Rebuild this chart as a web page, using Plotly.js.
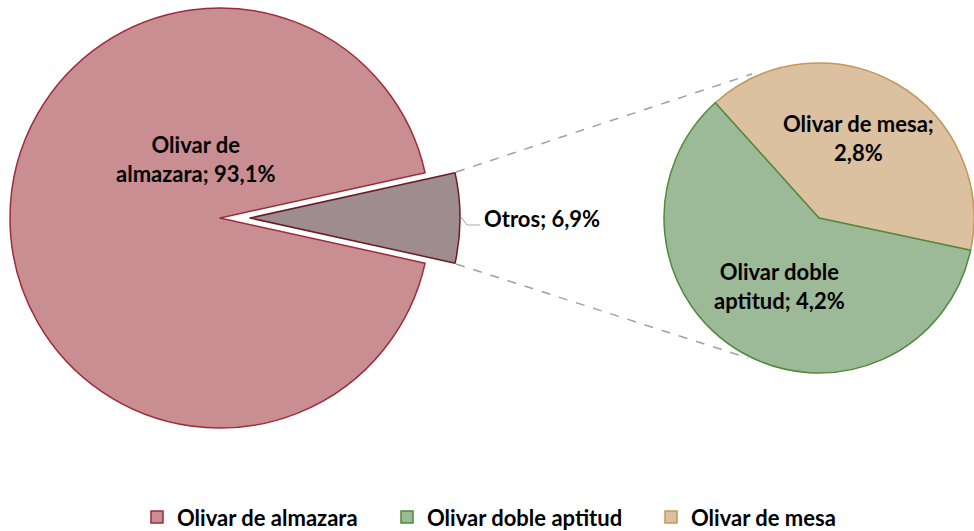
<!DOCTYPE html>
<html>
<head>
<meta charset="utf-8">
<script src="https://cdn.plot.ly/plotly-3.0.1.min.js"></script>
<style>
html,body{margin:0;padding:0;overflow:hidden;background:#fff;}
#chart{width:974px;height:531px;}
</style>
</head>
<body>
<div id="chart"></div>
<script>
// ---- data ----
var mainCategories = ['Olivar de almazara', 'Otros'];
var mainValues = [93.1, 6.9];
var subCategories = ['Olivar de mesa', 'Olivar doble aptitud'];
var subValues = [2.8, 4.2];
var legendCategories = ['Olivar de almazara', 'Olivar doble aptitud', 'Olivar de mesa'];

// ---- styling ----
var W = 974, H = 531;
var FONT = 'Lato, "Open Sans", sans-serif';
var colors = {
  'Olivar de almazara': {fill: '#c98e92', line: '#9e2a3a'},
  'Otros': {fill: '#9e8c8e', line: '#6a1c28'},
  'Olivar de mesa': {fill: '#dcc1a1', line: '#c59658'},
  'Olivar doble aptitud': {fill: '#9cb998', line: '#4f8a3c'}
};
function px(x) { return x / W; }
function py(y) { return 1 - y / H; }
function fmt(v) { return v.toFixed(1).replace('.', ',') + '%'; }

var total = mainValues[0] + mainValues[1];
var otrosDeg = mainValues[1] / total * 360;
var TRANSP = 'rgba(0,0,0,0)';

// main pie (almazara), Otros slice transparent
var traceMain = {
  type: 'pie', labels: mainCategories, values: mainValues,
  sort: false, direction: 'clockwise', rotation: 90 + otrosDeg / 2,
  textinfo: 'none', hoverinfo: 'label+percent', showlegend: false,
  marker: {colors: [colors['Olivar de almazara'].fill, TRANSP],
           line: {color: [colors['Olivar de almazara'].line, TRANSP], width: [1.5, 0]}},
  domain: {x: [px(10), px(430)], y: [py(428), py(8)]}
};
// exploded Otros slice
var traceOtros = {
  type: 'pie', labels: mainCategories, values: mainValues,
  sort: false, direction: 'clockwise', rotation: 90 + otrosDeg / 2,
  textinfo: 'none', hoverinfo: 'label+percent', showlegend: false,
  marker: {colors: [TRANSP, colors['Otros'].fill],
           line: {color: [TRANSP, colors['Otros'].line], width: [0, 1.5]}},
  domain: {x: [px(40), px(460)], y: [py(428), py(8)]}
};
// secondary pie
var traceSub = {
  type: 'pie', labels: subCategories, values: subValues,
  sort: false, direction: 'clockwise', rotation: -42,
  textinfo: 'none', hoverinfo: 'label+value', showlegend: false,
  marker: {colors: subCategories.map(function(c){return colors[c].fill;}),
           line: {color: subCategories.map(function(c){return colors[c].line;}), width: 1.5}},
  domain: {x: [px(664), 1], y: [py(374), py(62)]}
};

var labFont = {family: FONT, size: 22, color: '#000'};
function ann(text, x, y, xanchor) {
  return {text: text, x: px(x), y: py(y), xref: 'paper', yref: 'paper',
          xanchor: xanchor || 'center', yanchor: 'middle', showarrow: false,
          font: labFont, align: 'center'};
}
var annotations = [
  ann('<b>Olivar de<br>almazara; ' + fmt(mainValues[0]) + '</b>', 195, 159),
  ann('<b>' + mainCategories[1] + '; ' + fmt(mainValues[1]) + '</b>', 482, 218, 'left'),
  ann('<b>' + subCategories[0] + ';<br>' + fmt(subValues[0]) + '</b>', 858, 138),
  ann('<b>Olivar doble<br>aptitud; ' + fmt(subValues[1]) + '</b>', 779, 286)
];

var shapes = [
  {type: 'line', xref: 'paper', yref: 'paper', x0: px(456), y0: py(172), x1: px(752), y1: py(74),
   line: {color: '#a0a0a0', width: 1.5, dash: 'dash'}},
  {type: 'line', xref: 'paper', yref: 'paper', x0: px(456), y0: py(264), x1: px(748), y1: py(358),
   line: {color: '#a0a0a0', width: 1.5, dash: 'dash'}},
  {type: 'path', xref: 'paper', yref: 'paper',
   path: 'M ' + px(461) + ',' + py(217) + ' L ' + px(467) + ',' + py(225) + ' L ' + px(480) + ',' + py(225),
   line: {color: '#a6a6a6', width: 1}}
];

// legend (manual, Otros excluded)
var legendX = [150, 400, 664];
legendCategories.forEach(function(c, i) {
  var x0 = legendX[i];
  shapes.push({type: 'rect', xref: 'paper', yref: 'paper',
    x0: px(x0 + 1), x1: px(x0 + 13), y0: py(523), y1: py(511),
    fillcolor: colors[c].fill, line: {color: colors[c].line, width: 1.5}});
  annotations.push({text: '<b>' + c + '</b>', x: px(x0 + 25), y: py(517), xref: 'paper', yref: 'paper',
    xanchor: 'left', yanchor: 'middle', showarrow: false, font: labFont});
});

Plotly.newPlot('chart', [traceMain, traceOtros, traceSub], {
  width: W, height: H, margin: {l: 0, r: 0, t: 0, b: 0, pad: 0},
  paper_bgcolor: '#fff', plot_bgcolor: '#fff', showlegend: false,
  annotations: annotations, shapes: shapes, font: {family: FONT}
}, {displayModeBar: false, staticPlot: true});
</script>
</body>
</html>
